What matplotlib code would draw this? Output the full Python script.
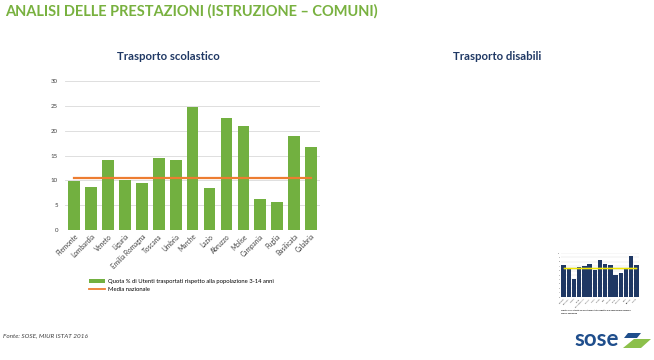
import numpy as np
import matplotlib.pyplot as plt
from matplotlib.patches import Polygon, Patch
from matplotlib.lines import Line2D

plt.rcParams['font.family'] = ['Lato', 'DejaVu Sans']

# data: trasporto scolastico (%)
regioni = ["Piemonte", "Lombardia", "Veneto", "Liguria", "Emilia Romagna", "Toscana",
           "Umbria", "Marche", "Lazio", "Abruzzo", "Molise", "Campania", "Puglia",
           "Basilicata", "Calabria"]
quota = [9.9, 8.7, 14.0, 10.1, 9.5, 14.5, 14.0, 24.8, 8.5, 22.6, 21.0, 6.2, 5.6, 18.9, 16.7]
media = 10.5

# tiny thumbnail: trasporto disabili (scale unread, relative heights)
disabili = [7.35, 6.45, 4.15, 6.8, 7.1, 7.6, 6.2, 8.5, 7.6, 7.35, 4.9, 5.45, 6.4, 9.4, 7.35]
media_dis = 6.7
media_dis2 = 6.5

GREEN = '#72b040'
ORANGE = '#ed7d31'
NAVY = '#1f3864'

fig = plt.figure(figsize=(6.54, 3.6), dpi=100)
fig.patch.set_facecolor('white')

# page overlay in pixel coords (title, footer, logo)
page = fig.add_axes([0, 0, 1, 1])
page.set_xlim(0, 654)
page.set_ylim(360, 0)
page.axis('off')
page.text(5, 11, "ANALISI DELLE PRESTAZIONI (ISTRUZIONE \u2013 COMUNI)", color='#78b13f',
          fontsize=10.5, fontweight='bold', va='center', ha='left')
page.text(168, 57, "Trasporto scolastico", color=NAVY, fontsize=8.2, fontweight='bold',
          ha='center', va='center')
page.text(497, 57, "Trasporto disabili", color=NAVY, fontsize=8.2, fontweight='bold',
          ha='center', va='center')
page.text(3, 336, "Fonte: SOSE, MIUR ISTAT 2016", fontsize=4.6, style='italic',
          color='#404040', ha='left', va='center')
page.text(574, 339, "sose", fontsize=16, color='#1f4e8c', fontweight='bold',
          ha='left', va='center')
page.add_patch(Polygon([[628, 333], [641, 333], [637, 338], [624, 338]],
                       closed=True, color='#1f4e8c', lw=0))
page.add_patch(Polygon([[634, 339], [651, 339], [641, 348], [623, 348]],
                       closed=True, color='#8cc04b', lw=0))

# main chart
ax = fig.add_axes([65 / 654, 1 - 230 / 360, 255 / 654, 149 / 360])
x = np.arange(len(regioni))
ax.bar(x, quota, width=0.69, color=GREEN, zorder=2)
ax.plot(x, [media] * len(x), color=ORANGE, lw=1.6, zorder=3)
ax.set_xlim(-0.54, 14.53)
ax.set_ylim(0, 30)
ax.set_yticks(range(0, 31, 5))
ax.grid(axis='y', color='#d9d9d9', lw=0.6, zorder=0)
for s in ax.spines.values():
    s.set_visible(False)
ax.tick_params(axis='both', length=0, labelsize=4.4, labelcolor='#404040')
ax.tick_params(axis='y', pad=5)
ax.set_xticks(x)
ax.set_xticklabels(regioni, rotation=45, ha='right', rotation_mode='anchor', fontsize=4.7)
ax.tick_params(axis='x', pad=2)

handles = [Patch(facecolor=GREEN, label="Quota % di Utenti trasportati rispetto alla popolazione 3-14 anni"),
           Line2D([0], [0], color=ORANGE, lw=1.3, label="Media nazionale")]
fig.legend(handles=handles, loc='upper left', bbox_to_anchor=(89 / 654, 1 - 279 / 360),
           frameon=False, fontsize=4.2, handlelength=2.8, handleheight=0.8,
           labelspacing=0.5, handletextpad=0.5, borderaxespad=0, borderpad=0)

# thumbnail chart
ins = fig.add_axes([561 / 654, 1 - 297 / 360, 78 / 654, 44 / 360])
ins.bar(x, disabili, width=0.85, color=NAVY, zorder=2)
ins.plot(x, [media_dis2] * len(x), color='#a9d18e', lw=1.0, zorder=3)
ins.plot(x, [media_dis] * len(x), color='#f2e400', lw=1.0, zorder=3)
ins.set_xlim(-0.5, 14.5)
ins.set_ylim(0, 10)
ins.set_yticks(range(0, 11))
ins.grid(axis='y', color='#d9d9d9', lw=0.3, zorder=0)
for s in ins.spines.values():
    s.set_visible(False)
ins.tick_params(axis='both', length=0, labelsize=1.3, labelcolor='#404040', pad=1)
ins.set_xticks(x)
ins.set_xticklabels(regioni, rotation=45, ha='right', rotation_mode='anchor')
page.text(561, 310, "Quota % di Utenti disabili trasportati rispetto alla popolazione disabile",
          fontsize=1.6, fontweight='bold', color='#222222', ha='left', va='center')
page.text(561, 313, "Media nazionale", fontsize=1.6, fontweight='bold', color='#222222',
          ha='left', va='center')

fig.savefig('out.png', dpi=100)
